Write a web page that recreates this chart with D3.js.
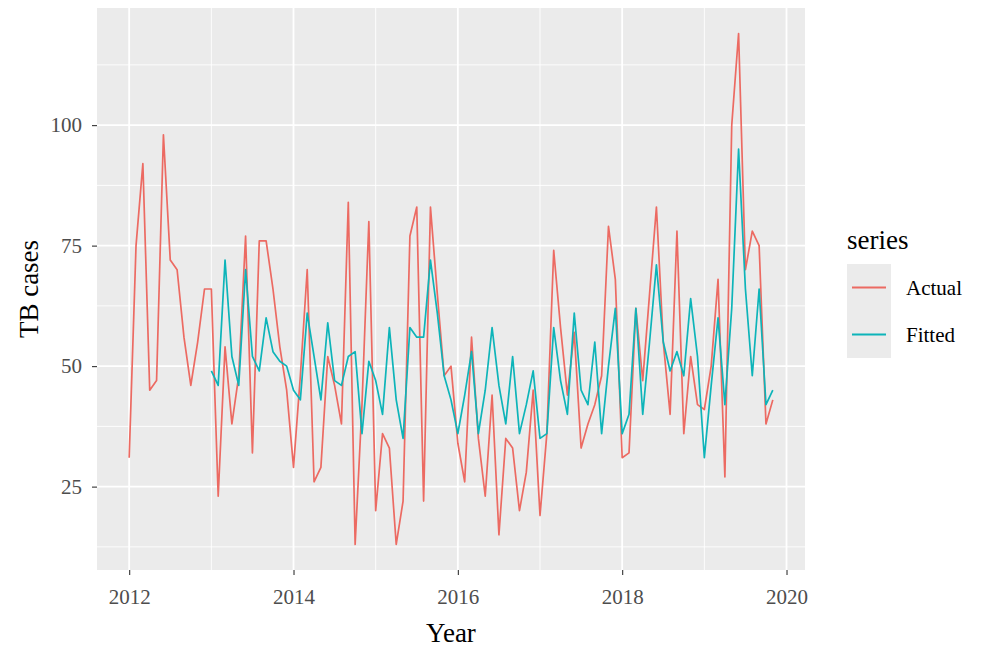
<!DOCTYPE html>
<html>
<head>
<meta charset="utf-8">
<script src="https://cdn.jsdelivr.net/npm/d3@7"></script>
<style>
  html, body { margin: 0; padding: 0; background: #ffffff; }
  svg { display: block; }
</style>
</head>
<body>
<svg id="chart" width="984" height="647"></svg>
<script>
// ---- data (monthly TB cases) ----
const actualStart = 2012;   // Jan 2012
const fittedStart = 2013;   // Jan 2013
const actual = [
  31, 75, 92, 45, 47, 98, 72, 70, 56, 46, 55, 66,
  66, 23, 54, 38, 48, 77, 32, 76, 76, 66, 54, 45,
  29, 48, 70, 26, 29, 52, 46, 38, 84, 13, 42, 80,
  20, 36, 33, 13, 22, 77, 83, 22, 83, 65, 48, 50,
  34, 26, 56, 35, 23, 44, 15, 35, 33, 20, 28, 45,
  19, 36, 74, 58, 44, 57, 33, 38, 42, 48, 79, 68,
  31, 32, 62, 47, 65, 83, 55, 40, 78, 36, 52, 42,
  41, 50, 68, 27, 100, 119, 70, 78, 75, 38, 43
];
const fitted = [
  49, 46, 72, 52, 46, 70, 52, 49, 60, 53, 51, 50,
  45, 43, 61, 52, 43, 59, 47, 46, 52, 53, 36, 51,
  47, 40, 58, 43, 35, 58, 56, 56, 72, 61, 48, 43,
  36, 44, 53, 36, 45, 58, 46, 38, 52, 36, 42, 49,
  35, 36, 58, 47, 40, 61, 45, 42, 55, 36, 50, 62,
  36, 40, 62, 40, 55, 71, 55, 49, 53, 48, 64, 52,
  31, 46, 60, 42, 62, 95, 66, 48, 66, 42, 45
];
const xTicks = [2012, 2014, 2016, 2018, 2020];
const xMinor = [2013, 2015, 2017, 2019];
const yTicks = [25, 50, 75, 100];
const yMinor = [12.5, 37.5, 62.5, 87.5, 112.5];
const seriesNames = ["Actual", "Fitted"];
const seriesColors = ["#EC6A62", "#0DB4B9"];

// ---- layout ----
const panel = {left: 97, right: 805, top: 8, bottom: 570};
const svg = d3.select("#chart");
const font = "'Liberation Serif', 'Times New Roman', serif";

const actualData = actual.map((v, i) => ({t: actualStart + i / 12, v}));
const fittedData = fitted.map((v, i) => ({t: fittedStart + i / 12, v}));

const tMin = actualData[0].t, tMax = actualData[actualData.length - 1].t;
const tPad = (tMax - tMin) * 0.05;
const allV = actual.concat(fitted);
const vMin = d3.min(allV), vMax = d3.max(allV);
const vPad = (vMax - vMin) * 0.05;

const x = d3.scaleLinear().domain([tMin - tPad, tMax + tPad]).range([panel.left, panel.right]);
const y = d3.scaleLinear().domain([vMin - vPad, vMax + vPad]).range([panel.bottom, panel.top]);

// panel background
svg.append("rect")
  .attr("x", panel.left).attr("y", panel.top)
  .attr("width", panel.right - panel.left).attr("height", panel.bottom - panel.top)
  .attr("fill", "#EBEBEB");

const grid = svg.append("g");
grid.selectAll(".hmin").data(yMinor).enter().append("line")
  .attr("x1", panel.left).attr("x2", panel.right)
  .attr("y1", d => y(d)).attr("y2", d => y(d))
  .attr("stroke", "#ffffff").attr("stroke-width", 0.9);
grid.selectAll(".vmin").data(xMinor).enter().append("line")
  .attr("y1", panel.top).attr("y2", panel.bottom)
  .attr("x1", d => x(d)).attr("x2", d => x(d))
  .attr("stroke", "#ffffff").attr("stroke-width", 0.9);
grid.selectAll(".hmaj").data(yTicks).enter().append("line")
  .attr("x1", panel.left).attr("x2", panel.right)
  .attr("y1", d => y(d)).attr("y2", d => y(d))
  .attr("stroke", "#ffffff").attr("stroke-width", 1.8);
grid.selectAll(".vmaj").data(xTicks).enter().append("line")
  .attr("y1", panel.top).attr("y2", panel.bottom)
  .attr("x1", d => x(d)).attr("x2", d => x(d))
  .attr("stroke", "#ffffff").attr("stroke-width", 1.8);

// lines
const line = d3.line().x(d => x(d.t)).y(d => y(d.v));
[actualData, fittedData].forEach((data, k) => {
  svg.append("path")
    .datum(data)
    .attr("d", line)
    .attr("fill", "none")
    .attr("stroke", seriesColors[k])
    .attr("stroke-width", 1.7)
    .attr("stroke-linejoin", "round");
});

// axes
const xAxis = svg.append("g")
  .attr("transform", `translate(0,${panel.bottom})`)
  .call(d3.axisBottom(x).tickValues(xTicks).tickFormat(d3.format("d")).tickSize(5).tickPadding(14));
const yAxis = svg.append("g")
  .attr("transform", `translate(${panel.left},0)`)
  .call(d3.axisLeft(y).tickValues(yTicks).tickFormat(d3.format("d")).tickSize(5).tickPadding(10));
[xAxis, yAxis].forEach(g => {
  g.select(".domain").remove();
  g.selectAll(".tick line").attr("stroke", "#333333").attr("stroke-width", 1.1);
  g.selectAll(".tick text")
    .attr("fill", "#4D4D4D")
    .style("font-family", font)
    .style("font-size", "21px");
});

// axis titles
svg.append("text")
  .attr("x", (panel.left + panel.right) / 2).attr("y", 642)
  .attr("text-anchor", "middle")
  .style("font-family", font).style("font-size", "27px").attr("fill", "#000")
  .text("Year");
svg.append("text")
  .attr("transform", `translate(38,${(panel.top + panel.bottom) / 2}) rotate(-90)`)
  .attr("text-anchor", "middle")
  .style("font-family", font).style("font-size", "27px").attr("fill", "#000")
  .text("TB cases");

// legend
const legend = svg.append("g").attr("transform", "translate(847,0)");
legend.append("text")
  .attr("x", 0).attr("y", 249)
  .style("font-family", font).style("font-size", "27px").attr("fill", "#000")
  .text("series");
seriesNames.forEach((name, k) => {
  const top = 264 + k * 47;
  legend.append("rect")
    .attr("x", 0).attr("y", top).attr("width", 44).attr("height", 47)
    .attr("fill", "#EBEBEB");
  legend.append("line")
    .attr("x1", 5).attr("x2", 39)
    .attr("y1", top + 23.5).attr("y2", top + 23.5)
    .attr("stroke", seriesColors[k]).attr("stroke-width", 1.8);
  legend.append("text")
    .attr("x", 59).attr("y", top + 23.5)
    .attr("dy", "0.35em")
    .style("font-family", font).style("font-size", "21px").attr("fill", "#000")
    .text(name);
});
</script>
</body>
</html>
